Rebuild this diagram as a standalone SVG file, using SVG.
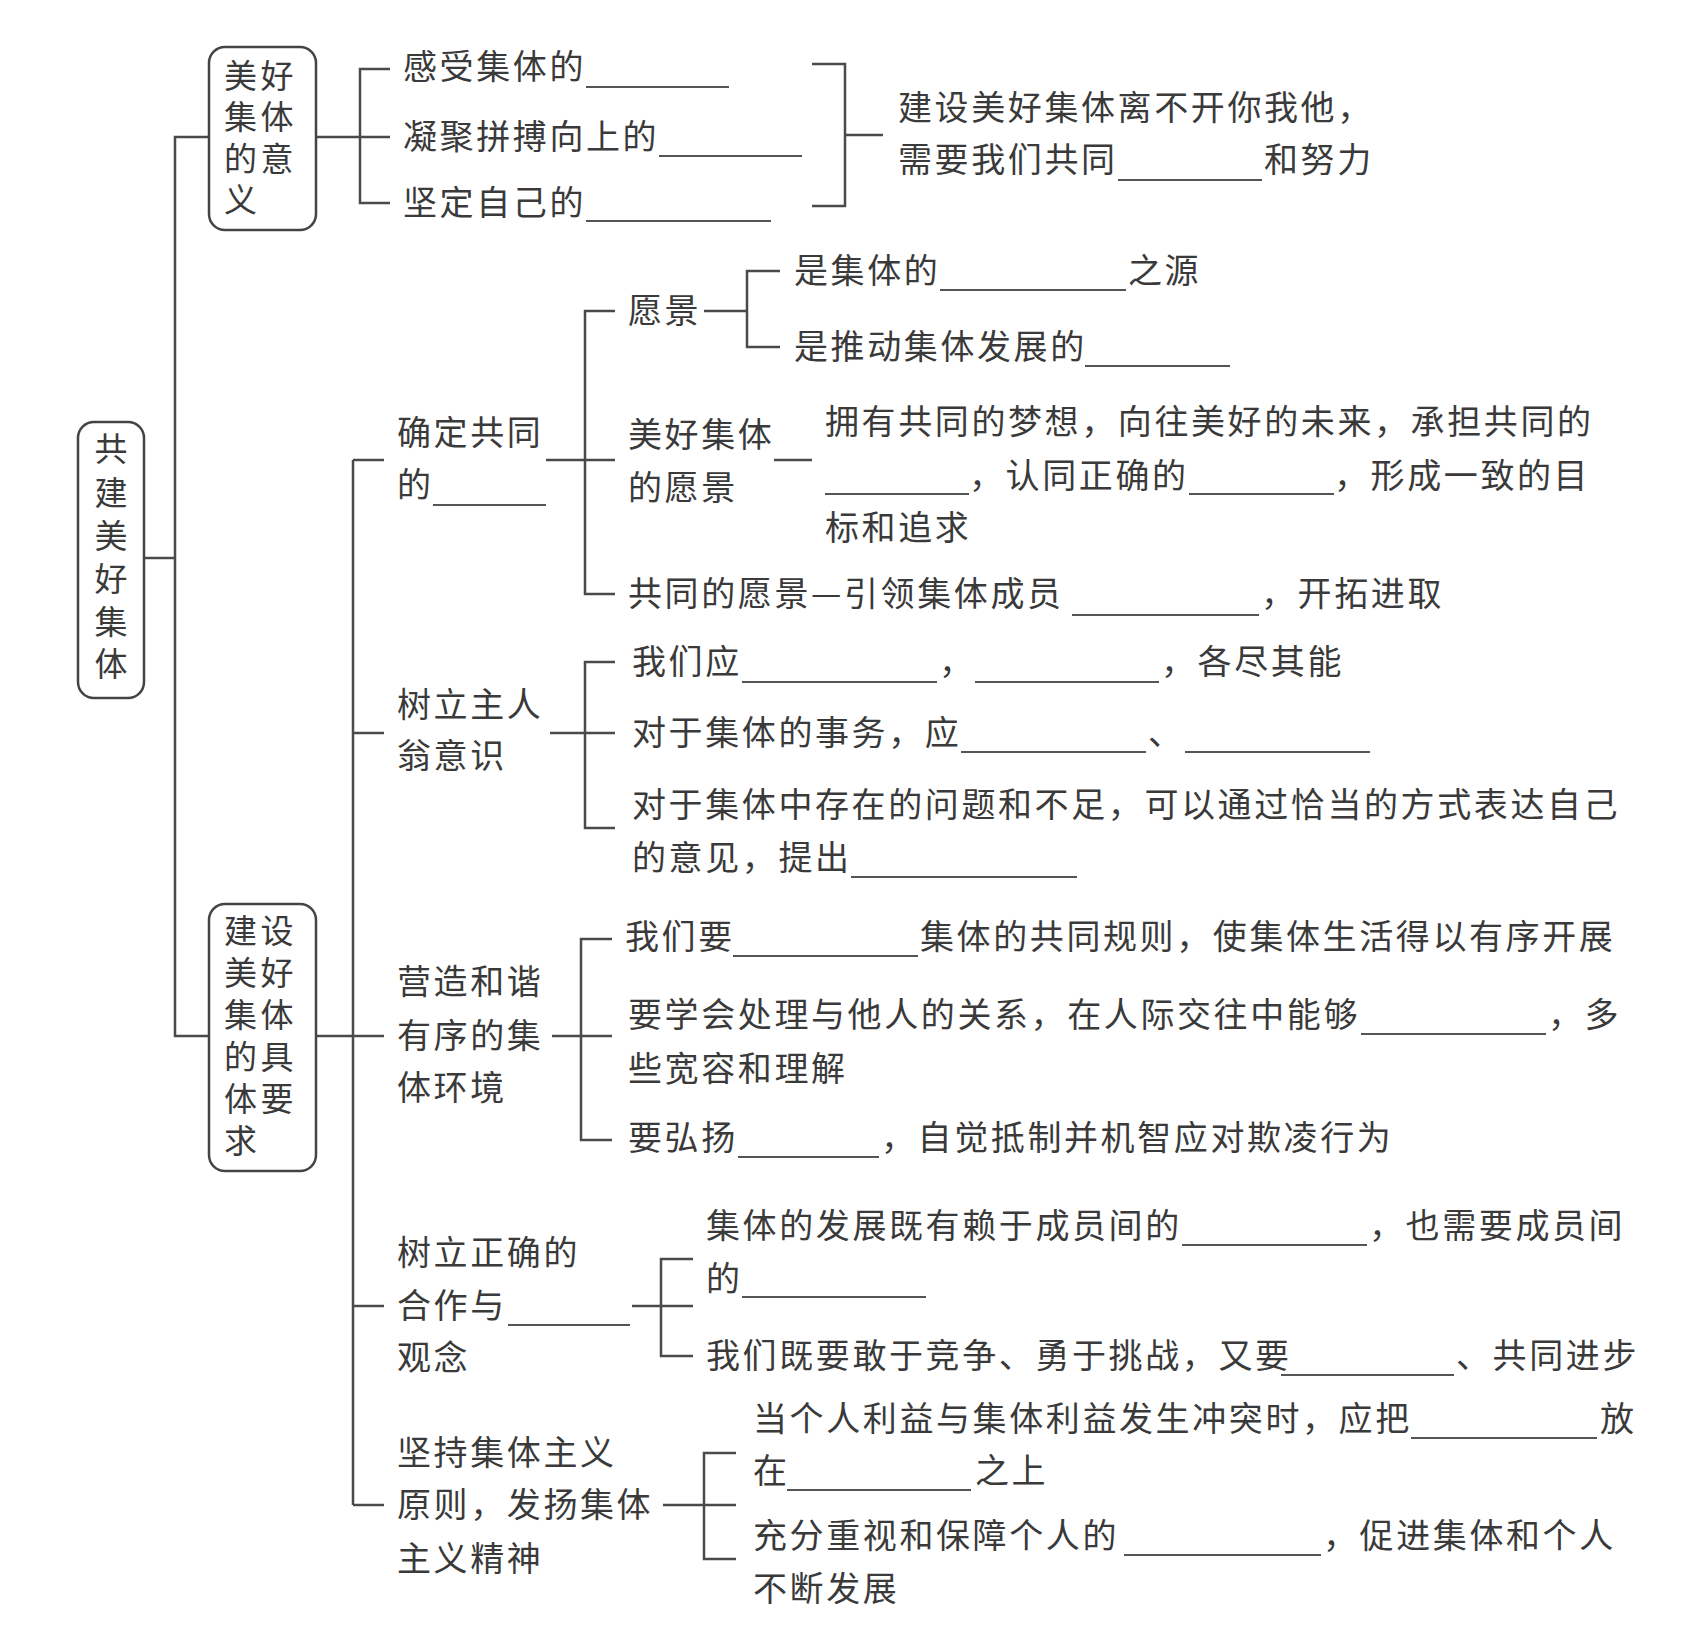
<svg xmlns="http://www.w3.org/2000/svg" width="1698" height="1629" viewBox="0 0 1698 1629">
<style>
.t{font-family:"Noto Sans CJK SC","Noto Sans CJK JP",sans-serif;font-size:34px;fill:#3a3a3a;letter-spacing:2.6px}
.bx{font-family:"Noto Sans CJK SC","Noto Sans CJK JP",sans-serif;font-size:33px;fill:#3a3a3a;letter-spacing:3.5px}
.rx{font-family:"Noto Sans CJK SC","Noto Sans CJK JP",sans-serif;font-size:33px;fill:#3a3a3a;text-anchor:middle}
.box{fill:none;stroke:#444;stroke-width:2.5}
.c line,.c path{stroke:#4a4a4a;stroke-width:2.5;fill:none}
.b line{stroke:#555;stroke-width:2}
</style>
<rect width="1698" height="1629" fill="#fff"/>
<g class="c" id="connectors">
<line x1="144" y1="558" x2="175" y2="558"/>
<path d="M209,137 H175 V1036 H209"/>
<line x1="316" y1="137" x2="390" y2="137"/>
<path d="M390,69 H360 V203 H390"/>
<path d="M812,64 H845 V206 H812"/>
<line x1="845" y1="135" x2="883" y2="135"/>
<line x1="316" y1="1036" x2="353" y2="1036"/>
<line x1="353" y1="460" x2="353" y2="1505"/>
<line x1="353" y1="460" x2="384" y2="460"/>
<line x1="353" y1="733" x2="384" y2="733"/>
<line x1="353" y1="1036" x2="384" y2="1036"/>
<line x1="353" y1="1306" x2="384" y2="1306"/>
<line x1="353" y1="1505" x2="384" y2="1505"/>
<line x1="546" y1="460" x2="615" y2="460"/>
<path d="M615,311 H585 V594 H615"/>
<line x1="704" y1="311" x2="747" y2="311"/>
<path d="M780,271 H747 V347 H780"/>
<line x1="774" y1="460" x2="812" y2="460"/>
<line x1="550" y1="733" x2="615" y2="733"/>
<path d="M615,662 H585 V828 H615"/>
<line x1="552" y1="1036" x2="612" y2="1036"/>
<path d="M612,939 H581 V1140 H612"/>
<line x1="632" y1="1306" x2="693" y2="1306"/>
<path d="M693,1259 H661 V1356 H693"/>
<line x1="663" y1="1505" x2="736" y2="1505"/>
<path d="M736,1453 H704 V1559 H736"/>
</g>
<g id="root">
<rect class="box" x="78" y="422" width="66" height="276" rx="16"/>
<text class="rx" x="111" y="461">共</text>
<text class="rx" x="111" y="505">建</text>
<text class="rx" x="111" y="548">美</text>
<text class="rx" x="111" y="591">好</text>
<text class="rx" x="111" y="634">集</text>
<text class="rx" x="111" y="676">体</text>
</g>
<g id="meaning">
<rect class="box" x="209" y="47" width="107" height="183" rx="16"/>
<text class="bx" x="224" y="88">美好</text>
<text class="bx" x="224" y="129">集体</text>
<text class="bx" x="224" y="171">的意</text>
<text class="bx" x="224" y="212">义</text>
</g>
<g id="meaning-items">
<text class="t" x="403" y="79">感受集体的</text>
<text class="t" x="403" y="149">凝聚拼搏向上的</text>
<text class="t" x="403" y="215">坚定自己的</text>
<g class="b"><line x1="586" y1="87" x2="729" y2="87"/><line x1="659" y1="156" x2="802" y2="156"/><line x1="586" y1="221" x2="771" y2="221"/></g>
</g>
<g id="meaning-summary">
<text class="t" x="898" y="120">建设美好集体离不开你我他，</text>
<text class="t" y="172"><tspan x="898">需要我们共同</tspan><tspan x="1264">和努力</tspan></text>
<g class="b"><line x1="1118" y1="180" x2="1262" y2="180"/></g>
</g>
<g id="requirements">
<rect class="box" x="209" y="904" width="107" height="267" rx="16"/>
<text class="bx" x="224" y="943">建设</text>
<text class="bx" x="224" y="985">美好</text>
<text class="bx" x="224" y="1027">集体</text>
<text class="bx" x="224" y="1069">的具</text>
<text class="bx" x="224" y="1111">体要</text>
<text class="bx" x="224" y="1153">求</text>
</g>
<g id="vision">
<text class="t" x="397" y="445">确定共同</text>
<text class="t" x="397" y="497">的</text>
<g class="b"><line x1="433" y1="505" x2="546" y2="505"/></g>
</g>
<g id="vision-def">
<text class="t" x="628" y="323">愿景</text>
<text class="t" y="283"><tspan x="794">是集体的</tspan><tspan x="1128">之源</tspan></text>
<text class="t" x="794" y="359">是推动集体发展的</text>
<g class="b"><line x1="940" y1="290" x2="1126" y2="290"/><line x1="1085" y1="366" x2="1230" y2="366"/></g>
</g>
<g id="vision-good">
<text class="t" x="628" y="447">美好集体</text>
<text class="t" x="628" y="500">的愿景</text>
<text class="t" x="825" y="434">拥有共同的梦想，向往美好的未来，承担共同的</text>
<text class="t" y="488"><tspan x="969">，认同正确的</tspan><tspan x="1334">，形成一致的目</tspan></text>
<text class="t" x="825" y="540">标和追求</text>
<g class="b"><line x1="825" y1="494" x2="969" y2="494"/><line x1="1189" y1="494" x2="1334" y2="494"/></g>
</g>
<g id="vision-shared">
<text class="t" y="606"><tspan x="628">共同的愿景—引领集体成员</tspan><tspan x="1261">，开拓进取</tspan></text>
<g class="b"><line x1="1072" y1="615" x2="1259" y2="615"/></g>
</g>
<g id="owner">
<text class="t" x="397" y="717">树立主人</text>
<text class="t" x="397" y="768">翁意识</text>
<text class="t" y="674"><tspan x="632">我们应</tspan><tspan x="939">，</tspan><tspan x="1161">，各尽其能</tspan></text>
<text class="t" y="745"><tspan x="632">对于集体的事务，应</tspan><tspan x="1148">、</tspan></text>
<text class="t" x="632" y="817">对于集体中存在的问题和不足，可以通过恰当的方式表达自己</text>
<text class="t" x="632" y="870">的意见，提出</text>
<g class="b"><line x1="742" y1="682" x2="937" y2="682"/><line x1="975" y1="682" x2="1159" y2="682"/><line x1="961" y1="752" x2="1146" y2="752"/><line x1="1185" y1="752" x2="1370" y2="752"/><line x1="851" y1="877" x2="1077" y2="877"/></g>
</g>
<g id="harmony">
<text class="t" x="397" y="994">营造和谐</text>
<text class="t" x="397" y="1048">有序的集</text>
<text class="t" x="397" y="1100">体环境</text>
<text class="t" y="949"><tspan x="625">我们要</tspan><tspan x="920">集体的共同规则，使集体生活得以有序开展</tspan></text>
<text class="t" y="1027"><tspan x="628">要学会处理与他人的关系，在人际交往中能够</tspan><tspan x="1548">，多</tspan></text>
<text class="t" x="628" y="1081">些宽容和理解</text>
<text class="t" y="1150"><tspan x="628">要弘扬</tspan><tspan x="881">，自觉抵制并机智应对欺凌行为</tspan></text>
<g class="b"><line x1="733" y1="956" x2="918" y2="956"/><line x1="1361" y1="1034" x2="1546" y2="1034"/><line x1="738" y1="1157" x2="879" y2="1157"/></g>
</g>
<g id="cooperation">
<text class="t" x="397" y="1265">树立正确的</text>
<text class="t" x="397" y="1318">合作与</text>
<text class="t" x="397" y="1370">观念</text>
<text class="t" y="1238"><tspan x="706">集体的发展既有赖于成员间的</tspan><tspan x="1369">，也需要成员间</tspan></text>
<text class="t" x="706" y="1291">的</text>
<text class="t" y="1368"><tspan x="706">我们既要敢于竞争、勇于挑战，又要</tspan><tspan x="1456">、共同进步</tspan></text>
<g class="b"><line x1="508" y1="1325" x2="630" y2="1325"/><line x1="1182" y1="1245" x2="1367" y2="1245"/><line x1="742" y1="1297" x2="926" y2="1297"/><line x1="1281" y1="1375" x2="1454" y2="1375"/></g>
</g>
<g id="collectivism">
<text class="t" x="397" y="1465">坚持集体主义</text>
<text class="t" x="397" y="1517">原则，发扬集体</text>
<text class="t" x="397" y="1571">主义精神</text>
<text class="t" y="1431"><tspan x="753">当个人利益与集体利益发生冲突时，应把</tspan><tspan x="1600">放</tspan></text>
<text class="t" y="1483"><tspan x="753">在</tspan><tspan x="975">之上</tspan></text>
<text class="t" y="1548"><tspan x="753">充分重视和保障个人的</tspan><tspan x="1323">，促进集体和个人</tspan></text>
<text class="t" x="753" y="1601">不断发展</text>
<g class="b"><line x1="1411" y1="1438" x2="1597" y2="1438"/><line x1="787" y1="1490" x2="971" y2="1490"/><line x1="1124" y1="1555" x2="1321" y2="1555"/></g>
</g>
</svg>
